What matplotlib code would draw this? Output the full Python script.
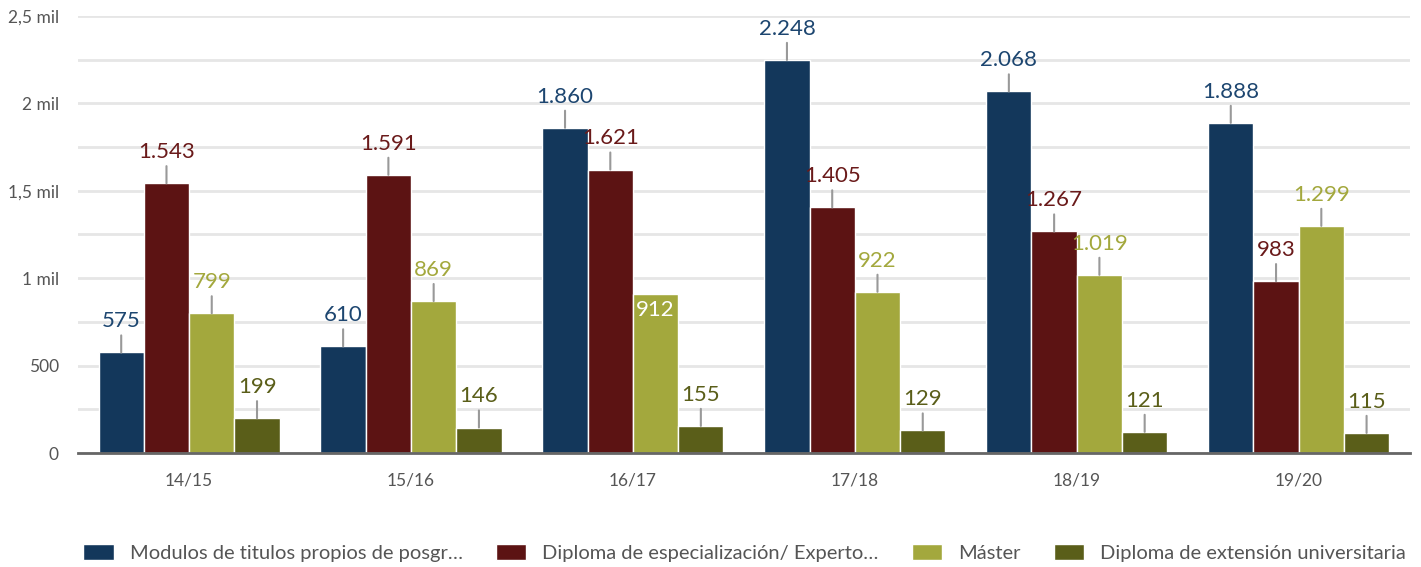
import matplotlib
matplotlib.use("Agg")
from matplotlib import pyplot as plt
from matplotlib.ticker import FixedLocator, MultipleLocator
import numpy as np

plt.rcParams['font.family'] = ['Lato', 'DejaVu Sans']

cursos = ['14/15', '15/16', '16/17', '17/18', '18/19', '19/20']
series = [
    'Modulos de titulos propios de posgr…',
    'Diploma de especialización/ Experto…',
    'Máster',
    'Diploma de extensión universitaria',
]
modulos = [575, 610, 1860, 2248, 2068, 1888]
diploma_esp = [1543, 1591, 1621, 1405, 1267, 983]
master = [799, 869, 912, 922, 1019, 1299]
diploma_ext = [199, 146, 155, 129, 121, 115]
valores = [modulos, diploma_esp, master, diploma_ext]

colores = ['#13375b', '#5c1313', '#a3a83d', '#5a5e19']
colores_texto = ['#1d4670', '#6a1a1a', '#a3a83d', '#5a5e19']

# labels drawn inside the bar (serie, curso)
dentro = [(2, 2)]


def fmt(v):
    return '{:,}'.format(v).replace(',', '.')


fig = plt.figure(figsize=(14.21, 5.67), dpi=100)
ax = fig.add_axes([0.055, 0.201, 0.937, 0.771])

x = np.arange(len(cursos))
w = 0.204
for j in range(len(series)):
    pos = x + (j - 1.5) * w
    ax.bar(pos, valores[j], width=w, color=colores[j], edgecolor='white',
           linewidth=1, label=series[j], zorder=3)
    for i in range(len(cursos)):
        v = valores[j][i]
        if (j, i) in dentro:
            ax.annotate(fmt(v), (pos[i], v), xytext=(0, -12),
                        textcoords='offset points', ha='center', va='center',
                        fontsize=16, color='white', zorder=5)
        else:
            ax.annotate(fmt(v), (pos[i], v), xytext=(0, 22.5),
                        textcoords='offset points', ha='center', va='center',
                        fontsize=16, color=colores_texto[j], zorder=5,
                        arrowprops=dict(arrowstyle='-', color='#999999', lw=1.5,
                                        shrinkA=1, shrinkB=0))

ax.set_xlim(-0.5, 5.5)
ax.set_ylim(0, 2500)
ax.set_xticks(x)
ax.set_xticklabels(cursos)
ax.yaxis.set_major_locator(FixedLocator([0, 500, 1000, 1500, 2000, 2500]))
ax.set_yticklabels(['0', '500', '1 mil', '1,5 mil', '2 mil', '2,5 mil'])
ax.yaxis.set_minor_locator(MultipleLocator(250))
ax.grid(axis='y', which='both', color='#e6e6e6', lw=2, zorder=0)
ax.tick_params(axis='both', which='both', length=0, labelsize=12.5, colors='#555555')
ax.tick_params(axis='x', pad=14)
ax.tick_params(axis='y', pad=14)
for s in ['top', 'right', 'left']:
    ax.spines[s].set_visible(False)
ax.spines['bottom'].set_color('#666666')
ax.spines['bottom'].set_linewidth(2)
ax.spines['bottom'].set_zorder(4)

fig.legend(loc='center', bbox_to_anchor=(0.524, 0.025), ncol=4, frameon=False,
           fontsize=14.5, handlelength=1.5, handleheight=0.9, handletextpad=0.8,
           columnspacing=1.65, labelcolor='#555555')

fig.savefig('out.png', dpi=100)
